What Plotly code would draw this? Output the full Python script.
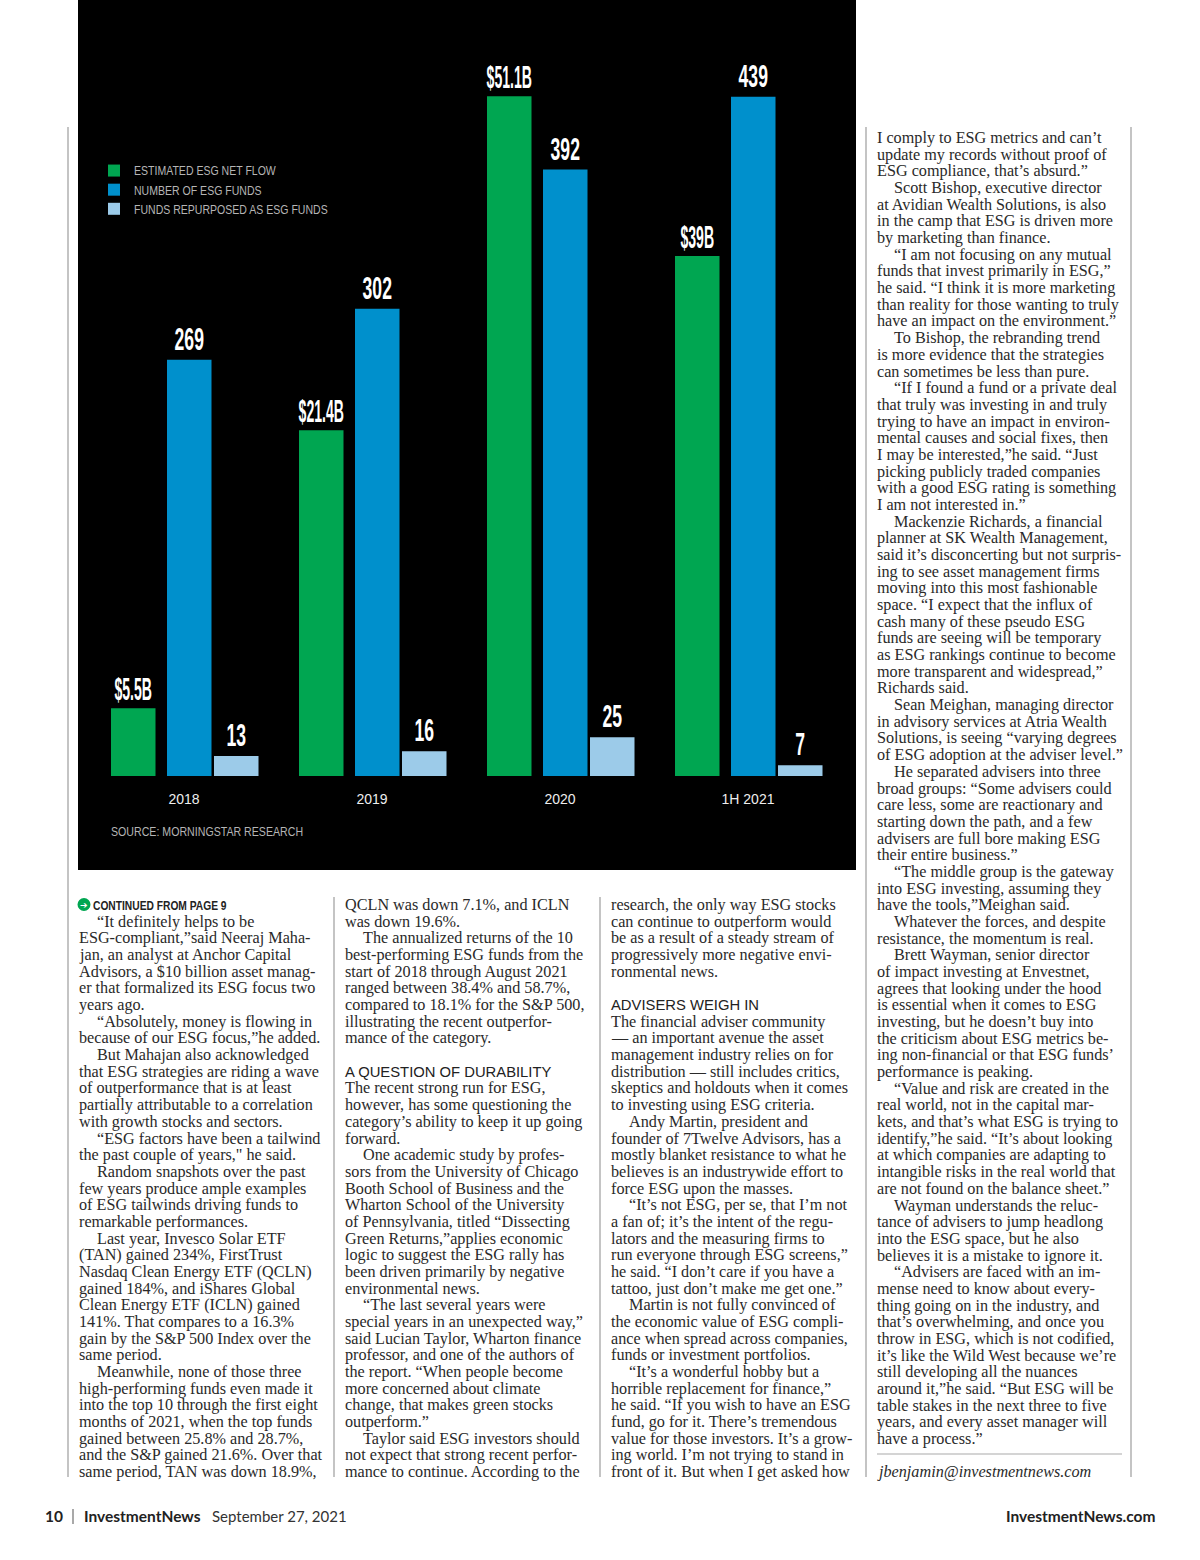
import plotly.graph_objects as go

W, H = 1200, 1560

# ---------- chart data ----------
categories = ["2018", "2019", "2020", "1H 2021"]
flow_heights = [5.1, 26.0, 51.1, 39.1]      # bar heights as drawn in the picture ($B)
flow_labels = ["$5.5B", "$21.4B", "$51.1B", "$39B"]
fund_counts = [269, 302, 392, 439]
repurposed_counts = [13, 16, 25, 7]

# ---------- page text ("|" marks an indented line, "#" a section head, "" a blank line) ----------
column_1 = [
"",
"|“It definitely helps to be",
"ESG-compliant,”said Neeraj Maha-",
"jan, an analyst at Anchor Capital",
"Advisors, a $10 billion asset manag-",
"er that formalized its ESG focus two",
"years ago.",
"|“Absolutely, money is flowing in",
"because of our ESG focus,”he added.",
"|But Mahajan also acknowledged",
"that ESG strategies are riding a wave",
"of outperformance that is at least",
"partially attributable to a correlation",
"with growth stocks and sectors.",
"|“ESG factors have been a tailwind",
"the past couple of years,\" he said.",
"|Random snapshots over the past",
"few years produce ample examples",
"of ESG tailwinds driving funds to",
"remarkable performances.",
"|Last year, Invesco Solar ETF",
"(TAN) gained 234%, FirstTrust",
"Nasdaq Clean Energy ETF (QCLN)",
"gained 184%, and iShares Global",
"Clean Energy ETF (ICLN) gained",
"141%. That compares to a 16.3%",
"gain by the S&P 500 Index over the",
"same period.",
"|Meanwhile, none of those three",
"high-performing funds even made it",
"into the top 10 through the first eight",
"months of 2021, when the top funds",
"gained between 25.8% and 28.7%,",
"and the S&P gained 21.6%. Over that",
"same period, TAN was down 18.9%,",
]
column_2 = [
"QCLN was down 7.1%, and ICLN",
"was down 19.6%.",
"|The annualized returns of the 10",
"best-performing ESG funds from the",
"start of 2018 through August 2021",
"ranged between 38.4% and 58.7%,",
"compared to 18.1% for the S&P 500,",
"illustrating the recent outperfor-",
"mance of the category.",
"",
"#A QUESTION OF DURABILITY",
"The recent strong run for ESG,",
"however, has some questioning the",
"category’s ability to keep it up going",
"forward.",
"|One academic study by profes-",
"sors from the University of Chicago",
"Booth School of Business and the",
"Wharton School of the University",
"of Pennsylvania, titled “Dissecting",
"Green Returns,”applies economic",
"logic to suggest the ESG rally has",
"been driven primarily by negative",
"environmental news.",
"|“The last several years were",
"special years in an unexpected way,”",
"said Lucian Taylor, Wharton finance",
"professor, and one of the authors of",
"the report. “When people become",
"more concerned about climate",
"change, that makes green stocks",
"outperform.”",
"|Taylor said ESG investors should",
"not expect that strong recent perfor-",
"mance to continue. According to the",
]
column_3 = [
"research, the only way ESG stocks",
"can continue to outperform would",
"be as a result of a steady stream of",
"progressively more negative envi-",
"ronmental news.",
"",
"#ADVISERS WEIGH IN",
"The financial adviser community",
"— an important avenue the asset",
"management industry relies on for",
"distribution — still includes critics,",
"skeptics and holdouts when it comes",
"to investing using ESG criteria.",
"|Andy Martin, president and",
"founder of 7Twelve Advisors, has a",
"mostly blanket resistance to what he",
"believes is an industrywide effort to",
"force ESG upon the masses.",
"|“It’s not ESG, per se, that I’m not",
"a fan of; it’s the intent of the regu-",
"lators and the measuring firms to",
"run everyone through ESG screens,”",
"he said. “I don’t care if you have a",
"tattoo, just don’t make me get one.”",
"|Martin is not fully convinced of",
"the economic value of ESG compli-",
"ance when spread across companies,",
"funds or investment portfolios.",
"|“It’s a wonderful hobby but a",
"horrible replacement for finance,”",
"he said. “If you wish to have an ESG",
"fund, go for it. There’s tremendous",
"value for those investors. It’s a grow-",
"ing world. I’m not trying to stand in",
"front of it. But when I get asked how",
]
column_4 = [
"I comply to ESG metrics and can’t",
"update my records without proof of",
"ESG compliance, that’s absurd.”",
"|Scott Bishop, executive director",
"at Avidian Wealth Solutions, is also",
"in the camp that ESG is driven more",
"by marketing than finance.",
"|“I am not focusing on any mutual",
"funds that invest primarily in ESG,”",
"he said. “I think it is more marketing",
"than reality for those wanting to truly",
"have an impact on the environment.”",
"|To Bishop, the rebranding trend",
"is more evidence that the strategies",
"can sometimes be less than pure.",
"|“If I found a fund or a private deal",
"that truly was investing in and truly",
"trying to have an impact in environ-",
"mental causes and social fixes, then",
"I may be interested,”he said. “Just",
"picking publicly traded companies",
"with a good ESG rating is something",
"I am not interested in.”",
"|Mackenzie Richards, a financial",
"planner at SK Wealth Management,",
"said it’s disconcerting but not surpris-",
"ing to see asset management firms",
"moving into this most fashionable",
"space. “I expect that the influx of",
"cash many of these pseudo ESG",
"funds are seeing will be temporary",
"as ESG rankings continue to become",
"more transparent and widespread,”",
"Richards said.",
"|Sean Meighan, managing director",
"in advisory services at Atria Wealth",
"Solutions, is seeing “varying degrees",
"of ESG adoption at the adviser level.”",
"|He separated advisers into three",
"broad groups: “Some advisers could",
"care less, some are reactionary and",
"starting down the path, and a few",
"advisers are full bore making ESG",
"their entire business.”",
"|“The middle group is the gateway",
"into ESG investing, assuming they",
"have the tools,”Meighan said.",
"|Whatever the forces, and despite",
"resistance, the momentum is real.",
"|Brett Wayman, senior director",
"of impact investing at Envestnet,",
"agrees that looking under the hood",
"is essential when it comes to ESG",
"investing, but he doesn’t buy into",
"the criticism about ESG metrics be-",
"ing non-financial or that ESG funds’",
"performance is peaking.",
"|“Value and risk are created in the",
"real world, not in the capital mar-",
"kets, and that’s what ESG is trying to",
"identify,”he said. “It’s about looking",
"at which companies are adapting to",
"intangible risks in the real world that",
"are not found on the balance sheet.”",
"|Wayman understands the reluc-",
"tance of advisers to jump headlong",
"into the ESG space, but he also",
"believes it is a mistake to ignore it.",
"|“Advisers are faced with an im-",
"mense need to know about every-",
"thing going on in the industry, and",
"that’s overwhelming, and once you",
"throw in ESG, which is not codified,",
"it’s like the Wild West because we’re",
"still developing all the nuances",
"around it,”he said. “But ESG will be",
"table stakes in the next three to five",
"years, and every asset manager will",
"have a process.”",
"",
]
byline = "jbenjamin@investmentnews.com"

# ---------- styling ----------
GREEN, BLUE, LIGHT = "#00A651", "#0090CC", "#9CCBE9"
SERIF, SANS, FOOT = "Liberation Serif", "Liberation Sans", "Lato"
BODY_SIZE, BODY_COLOR = 16.2, "#2a2a2a"
PITCH = 16.68
BASE = 776.0
PX_PER_FUND, PX_PER_B = 1.547, 13.3
GROUP_PX = 188.0
FIRST_CENTER = 184.0
BAR_W = 44.5 / GROUP_PX

def px(x): return x / W
def py(y): return 1 - y / H

fig = go.Figure()
text_font = dict(family=SANS, size=32, color="white", weight="bold")

def add_bar(name, vals, labels, color, offset_px, axis):
    fig.add_trace(go.Bar(
        x=categories, y=vals, name=name, yaxis=axis,
        marker=dict(color=color, line=dict(width=0)),
        width=BAR_W, offset=offset_px / GROUP_PX,
        text=labels, textposition="outside", textangle=0,
        textfont=text_font, cliponaxis=False, constraintext="none",
        hoverinfo="skip",
    ))

add_bar("ESTIMATED ESG NET FLOW", flow_heights, flow_labels, GREEN, 111 - FIRST_CENTER, "y2")
add_bar("NUMBER OF ESG FUNDS", fund_counts, [str(v) for v in fund_counts], BLUE, 167 - FIRST_CENTER, "y")
add_bar("FUNDS REPURPOSED AS ESG FUNDS", repurposed_counts, [str(v) for v in repurposed_counts], LIGHT, 214 - FIRST_CENTER, "y")

ann = []
def note(x, y, text, size=BODY_SIZE, family=SERIF, color=BODY_COLOR, anchor="left", **fontkw):
    ann.append(dict(x=px(x), y=py(y), xref="paper", yref="paper", text=text, showarrow=False,
                    xanchor=anchor, yanchor="middle", align=anchor, borderpad=0, borderwidth=0,
                    font=dict(family=family, size=size, color=color, **fontkw)))

def column(lines, x, y0):
    for i, line in enumerate(lines):
        y = y0 + i * PITCH
        if not line:
            continue
        if line[0] == "|":
            note(x + 17.5, y, line[1:])
        elif line[0] == "#":
            note(x, y, line[1:], size=14.8, family=SANS, color="#222")
        else:
            note(x, y, line)

column(column_1, 79, 905)
column(column_2, 345, 905)
column(column_3, 611, 905)
column(column_4, 877, 138)
note(877, 1472, byline, style="italic")

note(93, 905.5, "CONTINUED FROM PAGE 9", size=12.5, family=SANS, color="#222", weight="bold")
note(84, 904.5, "➔", size=9, family="DejaVu Sans", color="white", anchor="center")
note(111, 832, "SOURCE: MORNINGSTAR RESEARCH", size=12, family=SANS, color="#b5b5b5")

note(45, 1516, "10", size=15.5, family=FOOT, color="#222", weight="bold")
note(84, 1516, "InvestmentNews", size=15.5, family=FOOT, color="#222", weight="bold")
note(212, 1516, "September 27, 2021", size=15, family=FOOT, color="#333")
note(1155, 1516, "InvestmentNews.com", size=15.5, family=FOOT, color="#222", anchor="right", weight="bold")

def rect(x0, y0, x1, y1, color):
    return dict(type="rect", xref="paper", yref="paper", x0=px(x0), x1=px(x1), y0=py(y0), y1=py(y1),
                fillcolor=color, line=dict(width=0), layer="below")

RULE = "#8a8a8a"
shapes = [
    rect(67.5, 127, 68.5, 1477, RULE),
    rect(333.5, 897, 334.5, 1477, RULE),
    rect(599.5, 897, 600.5, 1477, RULE),
    rect(865.5, 127, 866.5, 1477, RULE),
    rect(1130.5, 127, 1131.5, 1477, RULE),
    rect(877, 1453.5, 1122, 1454.5, "#aaaaaa"),
    rect(72.5, 1509, 73.5, 1524, "#555555"),
    rect(78, 0, 856, 870, "black"),
    dict(type="circle", xref="paper", yref="paper", x0=px(77.5), x1=px(90.5), y0=py(911), y1=py(898),
         fillcolor=GREEN, line=dict(width=0), layer="below"),
]

fig.update_layout(
    width=W, height=H, margin=dict(l=0, r=0, t=0, b=0, pad=0),
    paper_bgcolor="white", plot_bgcolor="rgba(0,0,0,0)",
    barmode="overlay", uniformtext=None,
    xaxis=dict(type="category", domain=[px(FIRST_CENTER - GROUP_PX / 2), px(FIRST_CENTER + 3.5 * GROUP_PX)],
               range=[-0.5, 3.5], showgrid=False, zeroline=False, showline=False, anchor="y",
               ticks="outside", ticklen=10, tickcolor="rgba(0,0,0,0)",
               tickfont=dict(family=SANS, size=14, color="#eeeeee")),
    yaxis=dict(domain=[py(BASE), 1], range=[0, BASE / PX_PER_FUND], visible=False),
    yaxis2=dict(domain=[py(BASE), 1], range=[0, BASE / PX_PER_B], visible=False, overlaying="y", anchor="x"),
    legend=dict(x=px(94), y=py(156), xanchor="left", yanchor="top", traceorder="normal",
                bgcolor="rgba(0,0,0,0)", borderwidth=0, itemclick=False, itemdoubleclick=False,
                font=dict(family=SANS, size=12.4, color="#b5b5b5"), tracegroupgap=0),
    showlegend=True, shapes=shapes, annotations=ann, hovermode=False,
)

# Condensed and tightly set type of the original: no such face is installed, so squeeze the real text.
post = """
document.body.style.margin = '0';
setTimeout(function () {
  var gd = document.getElementById('{plot_id}');
  function squeeze(el, sx, anchor, dy) {
    var b = el.getBBox();
    var ax = anchor === 'left' ? b.x : b.x + b.width / 2;
    var t = el.getAttribute('transform') || '';
    el.setAttribute('transform', t + ' translate(' + ax + ' ' + dy + ') scale(' + sx + ' 1) translate(' + (-ax) + ' 0)');
  }
  gd.querySelectorAll('.bartext text, text.bartext').forEach(function (el) {
    if (el.textContent.charAt(0) === '$') squeeze(el, 0.44, 'center', 2);
    else squeeze(el, 0.55, 'center', 0);
  });
  gd.querySelectorAll('.legendtext').forEach(function (el) { squeeze(el, 0.85, 'left', 0); });
  gd.querySelectorAll('.annotation-text').forEach(function (el) {
    var s = el.textContent;
    if (s.indexOf('CONTINUED') === 0) squeeze(el, 0.82, 'left', 0);
    if (s.indexOf('SOURCE') === 0) squeeze(el, 0.885, 'left', 0);
  });
}, 50);
"""
fig.write_html("out.html", post_script=post, config=dict(displayModeBar=False))
